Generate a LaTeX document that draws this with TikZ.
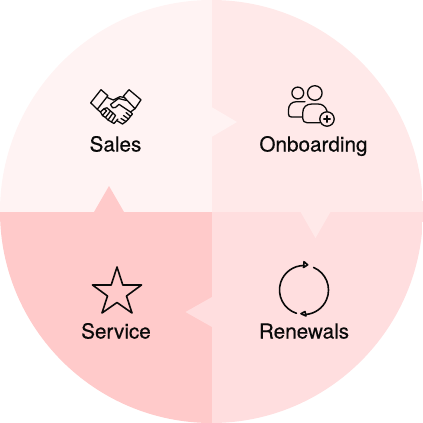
\documentclass[tikz,border=0pt]{standalone}
\usepackage{fontspec}
\setmainfont[FakeBold=0.35]{TeX Gyre Heros}
\definecolor{qa}{HTML}{FFF3F3}
\definecolor{qb}{HTML}{FFE9E9}
\definecolor{qc}{HTML}{FFDEDF}
\definecolor{qd}{HTML}{FFCACA}
\definecolor{ink}{HTML}{0A0A0A}
\tikzset{
  lab/.style={font=\fontsize{20.7}{24}\selectfont, text=ink, inner sep=0pt, anchor=base},
  ic/.style={draw=ink, line width=1.6pt, line join=round, line cap=round},
  icthin/.style={draw=ink, line width=1.3pt, line join=round, line cap=round}
}
\begin{document}
\begin{tikzpicture}[x=1pt,y=-1pt]
\useasboundingbox (0,0) rectangle (423,423);
\coordinate (c) at (211.5,211.5);
\begin{scope}
\clip (c) circle (211.5);
\fill[qa] (0,0) rectangle (211.5,211.5);
\fill[qb] (211.5,0) rectangle (423,211.5);
\fill[qc] (211.5,211.5) rectangle (423,423);
\fill[qd] (0,211.5) rectangle (211.5,423);
\fill[qa] (211.5,107) -- (237,122) -- (211.5,137) -- cycle;
\fill[qb] (300,211) -- (315.5,238) -- (331,211) -- cycle;
\fill[qc] (212,297) -- (185.5,312) -- (212,327) -- cycle;
\fill[qd] (94,212) -- (109,186) -- (124,212) -- cycle;
\end{scope}
% Sales handshake
\draw[icthin] (101,89.7) -- (107.9,95.7) -- (97.3,109.3) -- (90.7,102.8) -- cycle;
\draw[icthin] (129,89.7) -- (141,99.8) -- (135,108.7) -- (123.3,96.3) -- cycle;
\draw[icthin] (107.7,97.7) -- (113.3,100) -- (120,96.7) -- (124.5,97.5);
\draw[icthin] (126.5,100.5) -- (118.5,98.5) -- (110.5,104.5) -- (112.5,107.7) -- (115.5,107.5) -- (119,104.3) -- (130.5,112) -- (132.5,114) -- (130.5,116.3) -- (126,112.5);
\draw[icthin] (130.5,116.3) -- (128.5,119) -- (123.5,115.5);
\draw[icthin] (128.5,119) -- (126,121.5) -- (121,118.5);
\draw[icthin] (126,121.5) -- (122.5,124) -- (117.5,121);
\draw[icthin] (135,108.7) -- (130.5,112);
\draw[icthin] (97.3,109.3) -- (100.5,112);
\draw[icthin] (100.5,112) -- (104,108.7) -- (106.5,110.8) -- (102.5,115.5) -- cycle;
\draw[icthin] (104,108.7) -- (107,107.8) -- (110.5,111) -- (105.5,117.5) -- (102.5,115.5);
\draw[icthin] (110.5,111) -- (113,113) -- (108,120) -- (105.5,117.5);
\draw[icthin] (113,113) -- (115.5,115.5) -- (111.5,122) -- (108,120);
\draw[icthin] (111.5,122) -- (114,123.5) -- (118,119);
\node[lab] (sales) at (115.5,151.5) {Sales};
% Onboarding people
\draw[icthin] (297.8,93) circle (5.9);
\draw[icthin] (314.8,93) circle (7.3);
\draw[icthin] (302,117) -- (291.5,117) .. controls (289.5,117) and (288.5,116) .. (288.5,114) -- (288.5,110) .. controls (288.5,105) and (291.5,101.7) .. (296.5,101.7) -- (305,101.7);
\draw[icthin] (320,122.7) -- (307,122.7) .. controls (304.5,122.7) and (302.7,121) .. (302.7,118.5) -- (302.7,113) .. controls (302.7,107) and (306.5,104) .. (312,104) -- (318,104) .. controls (322,104) and (325.5,106) .. (327,111);
\draw[icthin] (327,119) circle (7.2);
\draw[icthin] (327,115.8) -- (327,122.2) (323.8,119) -- (330.2,119);
\node[lab] (onb) at (313.5,151.5) {Onboarding};
% Renewals cycle
\draw[ic] (304,290) ++(-67:24.5) arc[start angle=-67,end angle=86,radius=24.5];
\draw[ic] (304,290) ++(108:24.5) arc[start angle=108,end angle=270,radius=24.5];
\draw[ic] (304,261.7) -- (307.7,264.8) -- (303.5,267.5) -- cycle;
\draw[ic] (305,311.5) -- (301,313.7) -- (306,316) -- cycle;
\node[lab] (ren) at (304,338.5) {Renewals};
% Service star
\draw[ic] (117,267) -- (122.8,285) -- (141.5,285) -- (126.5,296) -- (132,313) -- (117,302.5) -- (102,313) -- (107.5,296) -- (92.5,285) -- (111.2,285) -- cycle;
\node[lab] (serv) at (116,338.5) {Service};
\end{tikzpicture}
\end{document}
